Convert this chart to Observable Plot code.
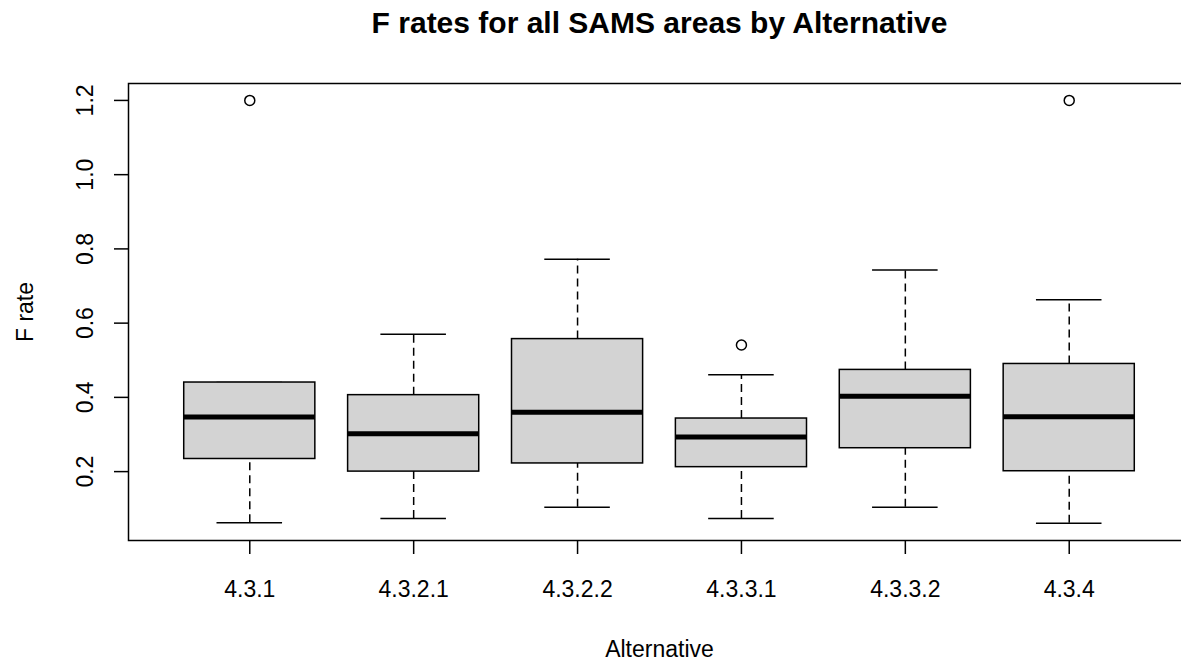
<!DOCTYPE html>
<html>
<head>
<meta charset="utf-8">
<script src="https://cdn.jsdelivr.net/npm/d3@7"></script>
<script src="https://cdn.jsdelivr.net/npm/@observablehq/plot@0.6"></script>
<style>
  html, body { margin: 0; padding: 0; overflow: hidden; background: #fff; }
  #chart svg { max-width: none !important; display: block; }
</style>
</head>
<body>
<div id="chart"></div>
<script>
// Data
const categories = ["4.3.1", "4.3.2.1", "4.3.2.2", "4.3.3.1", "4.3.3.2", "4.3.4"];
const lowerWhisker = [0.062, 0.074, 0.104, 0.074, 0.104, 0.061];
const q1 = [0.234, 0.200, 0.222, 0.212, 0.263, 0.201];
const median = [0.347, 0.302, 0.360, 0.293, 0.403, 0.348];
const q3 = [0.440, 0.406, 0.557, 0.343, 0.474, 0.490];
const upperWhisker = [0.440, 0.570, 0.772, 0.461, 0.743, 0.663];
const outlierGroup = ["4.3.1", "4.3.3.1", "4.3.4"];
const outlierValue = [1.2, 0.541, 1.2];
const yTicks = [0.2, 0.4, 0.6, 0.8, 1.0, 1.2];

const title = "F rates for all SAMS areas by Alternative";
const xLabel = "Alternative";
const yLabel = "F rate";

const boxes = categories.map((c, i) => ({
  pos: i + 1, name: c,
  lo: lowerWhisker[i], q1: q1[i], med: median[i], q3: q3[i], hi: upperWhisker[i]
}));
const outliers = outlierGroup.map((g, i) => ({ pos: categories.indexOf(g) + 1, v: outlierValue[i] }));

const font = "'Liberation Sans', Arial, sans-serif";

const chart = Plot.plot({
  width: 1200,
  height: 660,
  marginLeft: 128,
  marginRight: 10,
  marginTop: 83,
  marginBottom: 120,
  style: { fontFamily: font, fontSize: "23px", color: "#000", background: "#fff" },
  x: { type: "linear", domain: [0.26, 6.74] },
  y: { type: "linear", domain: [0.0144, 1.2456] },
  marks: [
    // whiskers (dashed)
    Plot.ruleX(boxes, { x: "pos", y1: "q3", y2: "hi", stroke: "#000", strokeWidth: 1.5, strokeDasharray: "8,5" }),
    Plot.ruleX(boxes, { x: "pos", y1: "lo", y2: "q1", stroke: "#000", strokeWidth: 1.5, strokeDasharray: "8,5" }),
    // staples
    Plot.ruleY(boxes, { y: "hi", x1: d => d.pos - 0.2, x2: d => d.pos + 0.2, stroke: "#000", strokeWidth: 1.5 }),
    Plot.ruleY(boxes, { y: "lo", x1: d => d.pos - 0.2, x2: d => d.pos + 0.2, stroke: "#000", strokeWidth: 1.5 }),
    // boxes
    Plot.rect(boxes, { x1: d => d.pos - 0.4, x2: d => d.pos + 0.4, y1: "q1", y2: "q3", fill: "#d3d3d3", stroke: "#000", strokeWidth: 1.5 }),
    // medians
    Plot.ruleY(boxes, { y: "med", x1: d => d.pos - 0.4, x2: d => d.pos + 0.4, stroke: "#000", strokeWidth: 5 }),
    // outliers
    Plot.dot(outliers, { x: "pos", y: "v", r: 5, stroke: "#000", strokeWidth: 1.5, fill: "none" }),
    // axes
    Plot.axisY({ ticks: yTicks, tickFormat: d => d.toFixed(1), tickSize: 14, tickPadding: 22, tickRotate: -90, strokeWidth: 1.5, fontSize: 23, label: null }),
    Plot.axisX({ ticks: d3.range(1, categories.length + 1), tickFormat: d => categories[d - 1], tickSize: 14, tickPadding: 26, strokeWidth: 1.5, fontSize: 23, label: null }),
    Plot.frame({ stroke: "#000", strokeWidth: 1.5 }),
    // titles
    Plot.text([title], { frameAnchor: "top", dy: -51, lineAnchor: "bottom", fontSize: 30, fontWeight: "bold", fill: "#000" }),
    Plot.text([xLabel], { frameAnchor: "bottom", dy: 116, fontSize: 23, fill: "#000" }),
    Plot.text([yLabel], { frameAnchor: "left", textAnchor: "middle", dx: -103, rotate: -90, fontSize: 23, fill: "#000" })
  ]
});
chart.style.maxWidth = "none";
document.getElementById("chart").appendChild(chart);
</script>
</body>
</html>
